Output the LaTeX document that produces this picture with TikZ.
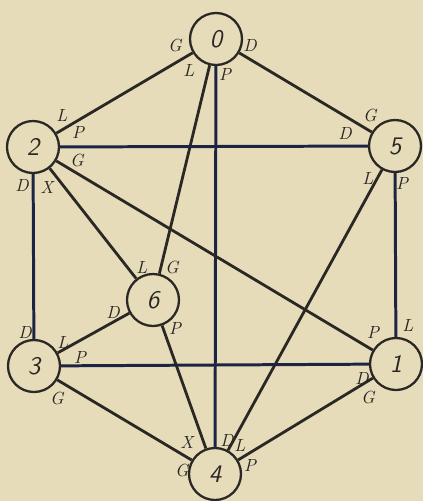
\documentclass[tikz,border=0pt]{standalone}
\usetikzlibrary{calc}
\definecolor{paper}{RGB}{231,220,186}
\definecolor{ink}{RGB}{42,40,36}
\definecolor{navy}{RGB}{28,36,68}

\begin{document}
\begin{tikzpicture}[
    x=0.02cm, y=-0.02cm,
    vertex/.style={circle, draw=ink, line width=1.3pt, minimum size=1.04cm, inner sep=0pt, font=\sffamily\itshape\Large, text=ink},
    port/.style={font=\itshape, text=ink, inner sep=0pt},
    link/.style={draw=ink, line width=1.6pt},
    bar/.style={draw=navy, line width=1.7pt}
]
\fill[paper] (0,0) rectangle (423,501);
\useasboundingbox (0,0) rectangle (423,501);

% vertices
\node[vertex] (n0) at (216,39) {0};
\node[vertex] (n2) at (33,147) {2};
\node[vertex] (n5) at (395,146) {5};
\node[vertex] (n6) at (153,300) {6};
\node[vertex] (n3) at (34,366) {3};
\node[vertex] (n1) at (396,364) {1};
\node[vertex] (n4) at (215,474) {4};

% edges
\draw[link] (n0) -- (n2);
\draw[link] (n0) -- (n5);
\draw[link] (n0) -- (n6);
\draw[bar] (n0) -- (n4);
\draw[bar] (n2) -- (n5);
\draw[link] (n2) -- (n1);
\draw[link] (n2) -- (n6);
\draw[bar] (n2) -- (n3);
\draw[link] (n5) -- (n4);
\draw[bar] (n5) -- (n1);
\draw[link] (n6) -- (n3);
\draw[link] (n6) -- (n4);
\draw[bar] (n3) -- (n1);
\draw[link] (n3) -- (n4);
\draw[link] (n1) -- (n4);

% port letters
\node[port] (n0G) at ($(n0)+(-41,6)$) {G};
\node[port] (n0L) at ($(n0)+(-27,31)$) {L};
\node[port] (n0P) at ($(n0)+(9,35)$) {P};
\node[port] (n0D) at ($(n0)+(34,6)$) {D};
\node[port] (n2L) at ($(n2)+(29,-32)$) {L};
\node[port] (n2P) at ($(n2)+(45,-15)$) {P};
\node[port] (n2G) at ($(n2)+(44,13)$) {G};
\node[port] (n2D) at ($(n2)+(-11,38)$) {D};
\node[port] (n2X) at ($(n2)+(14,40)$) {X};
\node[port] (n5G) at ($(n5)+(-25,-31)$) {G};
\node[port] (n5D) at ($(n5)+(-50,-13)$) {D};
\node[port] (n5L) at ($(n5)+(-27,32)$) {L};
\node[port] (n5P) at ($(n5)+(7,37)$) {P};
\node[port] (n6L) at ($(n6)+(-11,-33)$) {L};
\node[port] (n6G) at ($(n6)+(19,-33)$) {G};
\node[port] (n6D) at ($(n6)+(-40,12)$) {D};
\node[port] (n6P) at ($(n6)+(22,28)$) {P};
\node[port] (n3D) at ($(n3)+(-9,-34)$) {D};
\node[port] (n3L) at ($(n3)+(29,-24)$) {L};
\node[port] (n3P) at ($(n3)+(46,-9)$) {P};
\node[port] (n3G) at ($(n3)+(23,32)$) {G};
\node[port] (n1P) at ($(n1)+(-23,-32)$) {P};
\node[port] (n1L) at ($(n1)+(12,-39)$) {L};
\node[port] (n1D) at ($(n1)+(-34,14)$) {D};
\node[port] (n1G) at ($(n1)+(-28,33)$) {G};
\node[port] (n4X) at ($(n4)+(-28,-32)$) {X};
\node[port] (n4D) at ($(n4)+(12,-34)$) {D};
\node[port] (n4L) at ($(n4)+(25,-29)$) {L};
\node[port] (n4G) at ($(n4)+(-33,-4)$) {G};
\node[port] (n4P) at ($(n4)+(35,-9)$) {P};

\end{tikzpicture}
\end{document}
